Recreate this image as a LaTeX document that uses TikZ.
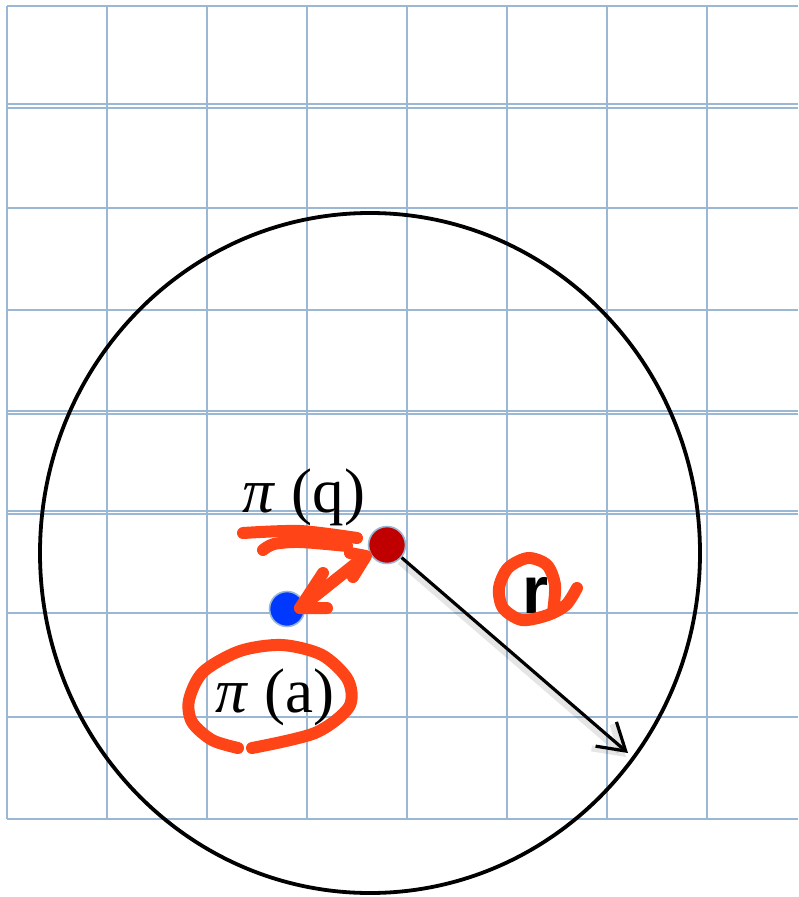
\documentclass[tikz,border=0pt]{standalone}
\usepackage{fontspec}
\setmainfont{Liberation Serif}
\newfontfamily\labelsans{Liberation Sans}
\usetikzlibrary{positioning, arrows.meta}
\definecolor{gridblue}{HTML}{9AB8D4}
\definecolor{inkred}{HTML}{FF4518}
\definecolor{dotred}{HTML}{C00000}
\definecolor{dotblue}{HTML}{0038FF}

\begin{document}
\begin{tikzpicture}[
    x=1pt, y=-1pt,
    gridline/.style={draw=gridblue, line width=2.8pt},
    rim/.style={draw=black, line width=3.8pt},
    point/.style={circle, draw=gridblue, line width=1.6pt, minimum size=37pt, inner sep=0pt},
    ink/.style={draw=inkred, line width=12pt, line cap=round, line join=round},
    mathlabel/.style={font=\fontsize{63}{63}\selectfont, inner sep=0pt, anchor=base},
    rlabel/.style={font=\labelsans\bfseries\fontsize{67}{67}\selectfont, inner sep=0pt, anchor=base},
    rline/.style={draw=black, line width=3.2pt, -{Straight Barb[length=26pt, width=32pt]}},
    rshade/.style={draw=black, opacity=0.1, line width=6pt, -{Straight Barb[length=26pt, width=32pt]}},
  ]
  \useasboundingbox (0,0) rectangle (798,897);

  \foreach \gx in {7,107,207,307,407,507,607,707}
    \draw[gridline] (\gx,6) -- (\gx,819);
  \foreach \gy in {6,104,108,208,310,411,414,511,514,613,717,819}
    \draw[gridline] (7,\gy) -- (798,\gy);

  \draw[rim] (370,553) ellipse [x radius=330, y radius=340];

  \node[point, fill=dotred] (q) at (387,545) {};
  \node[point, fill=dotblue, minimum size=35pt] (a) at (287,609) {};
  \coordinate (tip) at (628,753);

  \draw[rshade, transform canvas={shift={(-2pt,-4pt)}}] (q) -- (tip);
  \draw[rline] (q) -- (tip);

  \node[mathlabel] (piq) at (304,512) {\textit{π} (q)};
  \node[mathlabel] (pia) at (275,712) {\textit{π} (a)};
  \node[rlabel] (rlab) at (536,613) {r};

  \draw[ink] plot[smooth] coordinates {(243,533) (300,531) (357,538)};
  \draw[ink] plot[smooth] coordinates {(263,550) (274,544) (300,542) (347,546)};
  \draw[ink] (323,573) -- (300,608) -- (327,608);
  \draw[ink] (300,608) -- (364,557);
  \draw[ink] (350,553) -- (366,556) -- (353,577);
  \draw[ink] plot[smooth] coordinates {(577,588) (566,605) (548,615) (522,620) (503,608)
    (499,588) (508,568) (528,558) (547,565) (555,585) (553,612)};
  \draw[ink] plot[smooth] coordinates {(238,748) (212,740) (192,722) (189,700) (203,672)
    (240,651) (282,645) (322,655) (348,680) (349,707) (315,733) (252,748)};
\end{tikzpicture}
\end{document}
